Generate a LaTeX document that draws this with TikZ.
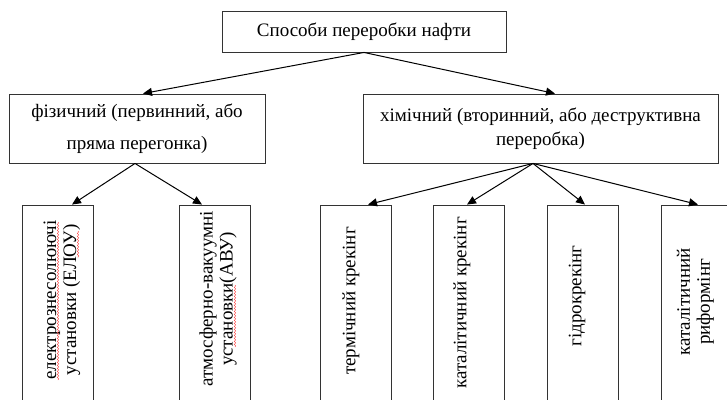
\documentclass[tikz,border=0pt]{standalone}
\usepackage{fontspec}
\setmainfont{Liberation Serif}
\usetikzlibrary{arrows.meta}
\usetikzlibrary{calc}
\usetikzlibrary{decorations.pathmorphing}

\begin{document}
\begin{tikzpicture}
[x=1pt,y=-1pt,
topb/.style={rectangle,draw=black!80,line width=0.9pt,minimum width=284pt,minimum height=41pt,inner sep=0pt,font=\fontsize{19}{23}\selectfont},
midb/.style={rectangle,draw=black!80,line width=0.9pt,minimum height=69pt,inner sep=0pt,align=center},
lowb/.style={rectangle,draw=black!80,line width=0.9pt,minimum width=71pt,minimum height=200pt,inner sep=0pt},
vtxt/.style={rotate=90,align=center,inner sep=0pt,font=\fontsize{19}{20}\selectfont},
arr/.style={-{Triangle[length=9pt,width=8pt]},draw=black,line width=1pt},
spell/.style={draw=red!75,line width=0.4pt,decorate,decoration={snake,amplitude=0.7pt,segment length=3pt}}]

\useasboundingbox (0,0) rectangle (727,399);
\begin{scope}
\clip (0,0) rectangle (727,399);

\node at (364,31.5)   [topb] (top) {Способи переробки нафти};
\node at (137,128.5)  [midb,minimum width=256pt,font=\fontsize{19}{32}\selectfont] (fiz) {фізичний (первинний, або\\ пряма перегонка)};
\node at (540.5,128.5) [midb,minimum width=355pt,font=\fontsize{19}{24}\selectfont] (him) {хімічний (вторинний, або деструктивна\\ переробка)};

\node at (58,305)    [lowb] (b1) {};
\node at (215,305)   [lowb] (b2) {};
\node at (356,305)   [lowb] (b3) {};
\node at (469,305)   [lowb] (b4) {};
\node at (582.5,305) [lowb] (b5) {};
\node at (696.5,305) [lowb] (b6) {};

\node at (62,300)    [vtxt] (t1) {електрознесолюючі\\ установки (ЕЛОУ)};
\node at (218,299)   [vtxt] (t2) {атмосферно-вакуумні\\ установки(АВУ)};
\node at (351,301)   [vtxt] (t3) {термічний крекінг};
\node at (462,303)   [vtxt] (t4) {каталітичний крекінг};
\node at (577,296)   [vtxt] (t5) {гідрокрекінг};
\node at (695.5,302) [vtxt] (t6) {каталітичний\\ риформінг};

\draw [arr] (top.south) to ($(fiz.north)+(6,0)$);
\draw [arr] (top.south) to ($(him.north)+(14.5,0)$);

\draw [arr] ($(fiz.south)+(-2,0)$) to ($(b1.north)+(14,0)$);
\draw [arr] ($(fiz.south)+(-2,0)$) to ($(b2.north)+(-13,0)$);

\draw [arr] ($(him.south)+(-7.5,0)$) to ($(b3.north)+(12,0)$);
\draw [arr] ($(him.south)+(-7.5,0)$) to ($(b4.north)+(-2,0)$);
\draw [arr] ($(him.south)+(-7.5,0)$) to ($(b5.north)+(2.5,0)$);
\draw [arr] ($(him.south)+(-7.5,0)$) to ($(b6.north)+(1.5,0)$);

\draw [spell] (58,222) -- (58,380);
\draw [spell] (78,231) -- (78,258);
\draw [spell] (235,285) -- (235,347);
\end{scope}
\end{tikzpicture}
\end{document}
